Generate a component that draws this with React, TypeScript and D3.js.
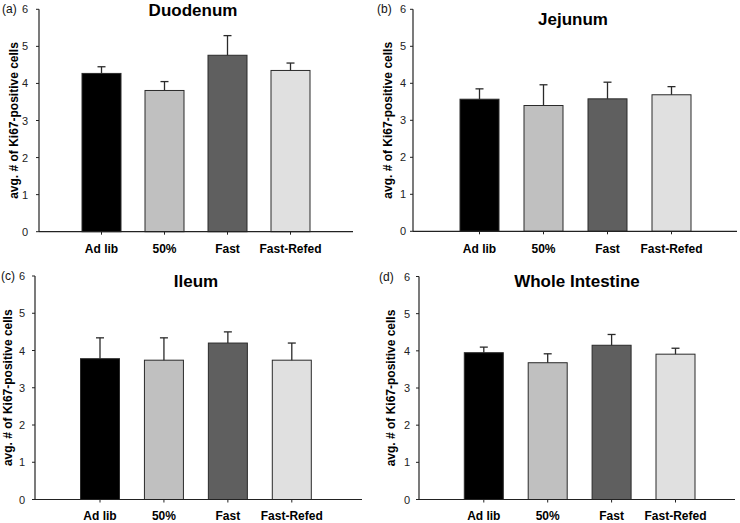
import React from 'react';
import * as d3 from 'd3';

const categories = ['Ad lib', '50%', 'Fast', 'Fast-Refed'];
const barColors = ['#000000', '#c0c0c0', '#5f5f5f', '#e0e0e0'];
const yTicks = [0, 1, 2, 3, 4, 5, 6];

const duodenumMeans = [4.27, 3.81, 4.76, 4.35];
const duodenumSem = [0.18, 0.24, 0.53, 0.2];
const jejunumMeans = [3.57, 3.4, 3.58, 3.69];
const jejunumSem = [0.28, 0.56, 0.45, 0.22];
const ileumMeans = [3.78, 3.74, 4.2, 3.74];
const ileumSem = [0.56, 0.6, 0.3, 0.46];
const wholeMeans = [3.95, 3.68, 4.15, 3.91];
const wholeSem = [0.15, 0.24, 0.29, 0.16];

const titles = ['Duodenum', 'Jejunum', 'Ileum', 'Whole Intestine'];
const panelTags = ['(a)', '(b)', '(c)', '(d)'];
const yLabel = 'avg. # of Ki67-positive cells';

// layout of each panel in page pixels
const layouts = [
  { left: 39, right: 353, top: 9.3, bottom: 231.7, first: 101.5, last: 290.5, titleX: 193, titleY: 16, catY: 253, tagX: 2, yLabX: 18, tickX: 28 },
  { left: 413, right: 737, top: 9.3, bottom: 231.3, first: 479.5, last: 671.5, titleX: 573, titleY: 25, catY: 253, tagX: 377, yLabX: 392, tickX: 406 },
  { left: 35, right: 362, top: 276, bottom: 499.5, first: 100, last: 291.8, titleX: 196, titleY: 287, catY: 520, tagX: 1, yLabX: 12, tickX: 25 },
  { left: 419, right: 735, top: 276.5, bottom: 499.5, first: 483.8, last: 675.5, titleX: 577, titleY: 287, catY: 520, tagX: 379, yLabX: 395, tickX: 410 },
];

const panelData = [
  { means: duodenumMeans, sem: duodenumSem },
  { means: jejunumMeans, sem: jejunumSem },
  { means: ileumMeans, sem: ileumSem },
  { means: wholeMeans, sem: wholeSem },
];

const font = '"Liberation Sans", Arial, Helvetica, sans-serif';
const barWidth = 39;
const capHalf = 4;

const Panel = ({ idx }: { idx: number }) => {
  const L = layouts[idx];
  const { means, sem } = panelData[idx];

  const x = d3.scalePoint<string>().domain(categories).range([L.first, L.last]);
  const y = d3.scaleLinear().domain([0, 6]).range([L.bottom, L.top]);
  const midY = (L.top + L.bottom) / 2;

  return (
    <g>
      <text x={L.tagX} y={L.top + 4} fontSize={12} fill="#111">{panelTags[idx]}</text>
      <text x={L.titleX} y={L.titleY} fontSize={17} fontWeight="bold" textAnchor="middle" fill="#000">
        {titles[idx]}
      </text>
      <text
        transform={`translate(${L.yLabX},${midY}) rotate(-90)`}
        fontSize={12}
        fontWeight="bold"
        textAnchor="middle"
        fill="#000"
      >
        {yLabel}
      </text>

      {/* bars */}
      {categories.map((c, i) => (
        <rect
          key={c}
          x={(x(c) as number) - barWidth / 2}
          y={y(means[i])}
          width={barWidth}
          height={y(0) - y(means[i])}
          fill={barColors[i]}
          stroke="#2a2a2a"
          strokeWidth={1}
        />
      ))}

      {/* upper error bars */}
      {categories.map((c, i) => {
        const cx = x(c) as number;
        const top = y(means[i] + sem[i]);
        return (
          <g key={c} stroke="#2a2a2a" strokeWidth={1.3}>
            <line x1={cx} x2={cx} y1={y(means[i])} y2={top} />
            <line x1={cx - capHalf} x2={cx + capHalf} y1={top} y2={top} />
          </g>
        );
      })}

      {/* y axis */}
      <line x1={L.left} x2={L.left} y1={L.top} y2={L.bottom} stroke="#222" strokeWidth={1.2} />
      {yTicks.map((t) => (
        <g key={t}>
          <line x1={L.left - 3} x2={L.left} y1={y(t)} y2={y(t)} stroke="#222" strokeWidth={1} />
          <text x={L.tickX} y={y(t) + 4} fontSize={11} textAnchor="end" fill="#222">
            {t}
          </text>
        </g>
      ))}

      {/* x axis */}
      <line x1={L.left} x2={L.right} y1={L.bottom} y2={L.bottom} stroke="#222" strokeWidth={1.2} />
      {categories.map((c) => (
        <g key={c}>
          <line x1={x(c)} x2={x(c)} y1={L.bottom} y2={L.bottom + 3} stroke="#222" strokeWidth={1} />
          <text x={x(c)} y={L.catY} fontSize={12} fontWeight="bold" textAnchor="middle" fill="#000">
            {c}
          </text>
        </g>
      ))}
    </g>
  );
};

export default function App() {
  return (
    <svg
      width={740}
      height={523}
      style={{ position: 'absolute', left: 0, top: 0, background: '#fff', fontFamily: font }}
    >
      <rect width={740} height={523} fill="#fff" />
      {layouts.map((_, i) => (
        <Panel key={i} idx={i} />
      ))}
    </svg>
  );
}
